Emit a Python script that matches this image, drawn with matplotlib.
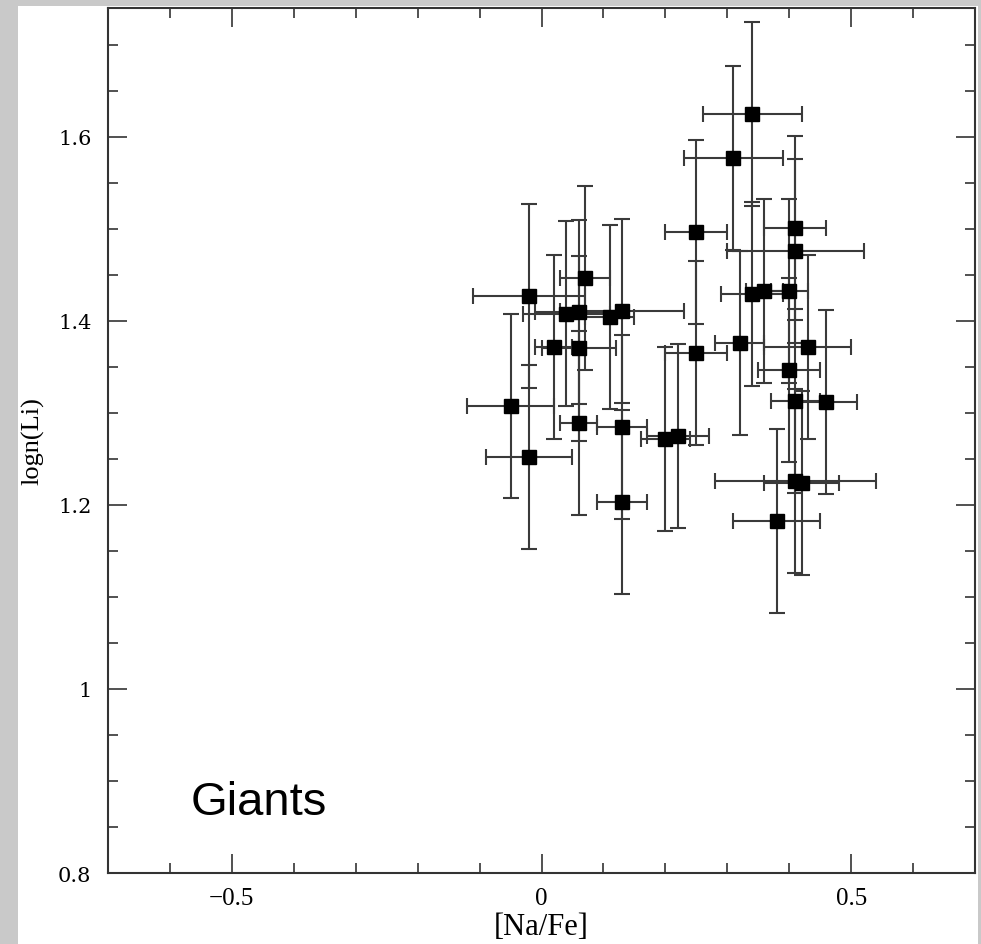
import matplotlib
matplotlib.use('Agg')
import matplotlib.pyplot as plt
from matplotlib.patches import Rectangle
from matplotlib.ticker import MultipleLocator, FuncFormatter

# [Na/Fe] vs logn(Li) for giants
na_fe = [0.34, 0.31, 0.41, 0.41, 0.25, -0.02, 0.07, 0.04, 0.06, 0.11, 0.13,
         0.02, 0.06, -0.05, -0.02, 0.06, 0.13, 0.13, 0.20, 0.22, 0.25,
         0.32, 0.43, 0.40, 0.41, 0.46, 0.41, 0.42, 0.38, 0.34, 0.36, 0.40]
log_li = [1.625, 1.577, 1.501, 1.476, 1.497, 1.427, 1.447, 1.408, 1.410, 1.404, 1.411,
          1.372, 1.370, 1.308, 1.252, 1.289, 1.285, 1.203, 1.272, 1.275, 1.365,
          1.376, 1.372, 1.347, 1.313, 1.312, 1.226, 1.224, 1.183, 1.429, 1.432, 1.432]
na_err = [0.08, 0.08, 0.05, 0.11, 0.05, 0.09, 0.04, 0.07, 0.07, 0.04, 0.10,
          0.03, 0.06, 0.07, 0.07, 0.03, 0.04, 0.04, 0.04, 0.05, 0.05,
          0.04, 0.07, 0.05, 0.04, 0.05, 0.13, 0.06, 0.07, 0.05, 0.03, 0.03]
li_err = [0.1] * len(na_fe)

fig = plt.figure(figsize=(9.81, 9.45), dpi=100, facecolor='#c9c9c9')
# white panel over the grey backdrop
fig.patches.append(Rectangle((0.018, 0.0), 0.979, 0.993, transform=fig.transFigure,
                             facecolor='white', edgecolor='none', zorder=-10))

ax = fig.add_axes([0.1101, 0.0751, 0.8838, 0.9154])
ax.set_zorder(5)
ax.errorbar(na_fe, log_li, xerr=na_err, yerr=li_err, fmt='s', color='black',
            ecolor='#3a3a3a', elinewidth=1.5, capsize=6, capthick=1.5,
            markersize=10, zorder=3)

ax.set_xlim(-0.7, 0.7)
ax.set_ylim(0.8, 1.74)
ax.xaxis.set_major_locator(MultipleLocator(0.5))
ax.xaxis.set_minor_locator(MultipleLocator(0.1))
ax.yaxis.set_major_locator(MultipleLocator(0.2))
ax.yaxis.set_minor_locator(MultipleLocator(0.05))
ax.xaxis.set_major_formatter(FuncFormatter(lambda v, p: ('%g' % round(v, 2)).replace('-', '\u2212') if abs(v) > 1e-9 else '0'))
ax.yaxis.set_major_formatter(FuncFormatter(lambda v, p: '%g' % round(v, 2)))
ax.tick_params(which='both', direction='in', top=True, right=True, color='#333333', width=1.2)
ax.tick_params(which='major', length=14)
ax.tick_params(which='minor', length=7)
ax.tick_params(axis='x', pad=10)
ax.tick_params(axis='y', pad=12)
for lab in ax.get_xticklabels():
    lab.set_fontfamily('Liberation Serif')
    lab.set_fontsize(18)
for lab in ax.get_yticklabels():
    lab.set_fontfamily('DejaVu Serif')
    lab.set_fontsize(15)
for s in ax.spines.values():
    s.set_color('#333333')
    s.set_linewidth(1.5)

ax.set_xlabel('[Na/Fe]', family='Liberation Serif', fontsize=22, labelpad=2)
ax.set_ylabel('logn(Li)', family='Liberation Serif', fontsize=19, labelpad=10)

ax.text(-0.566, 0.864, 'Giants', family='Liberation Sans', fontsize=34, color='black')

plt.savefig('out.png', dpi=100, facecolor=fig.get_facecolor())
